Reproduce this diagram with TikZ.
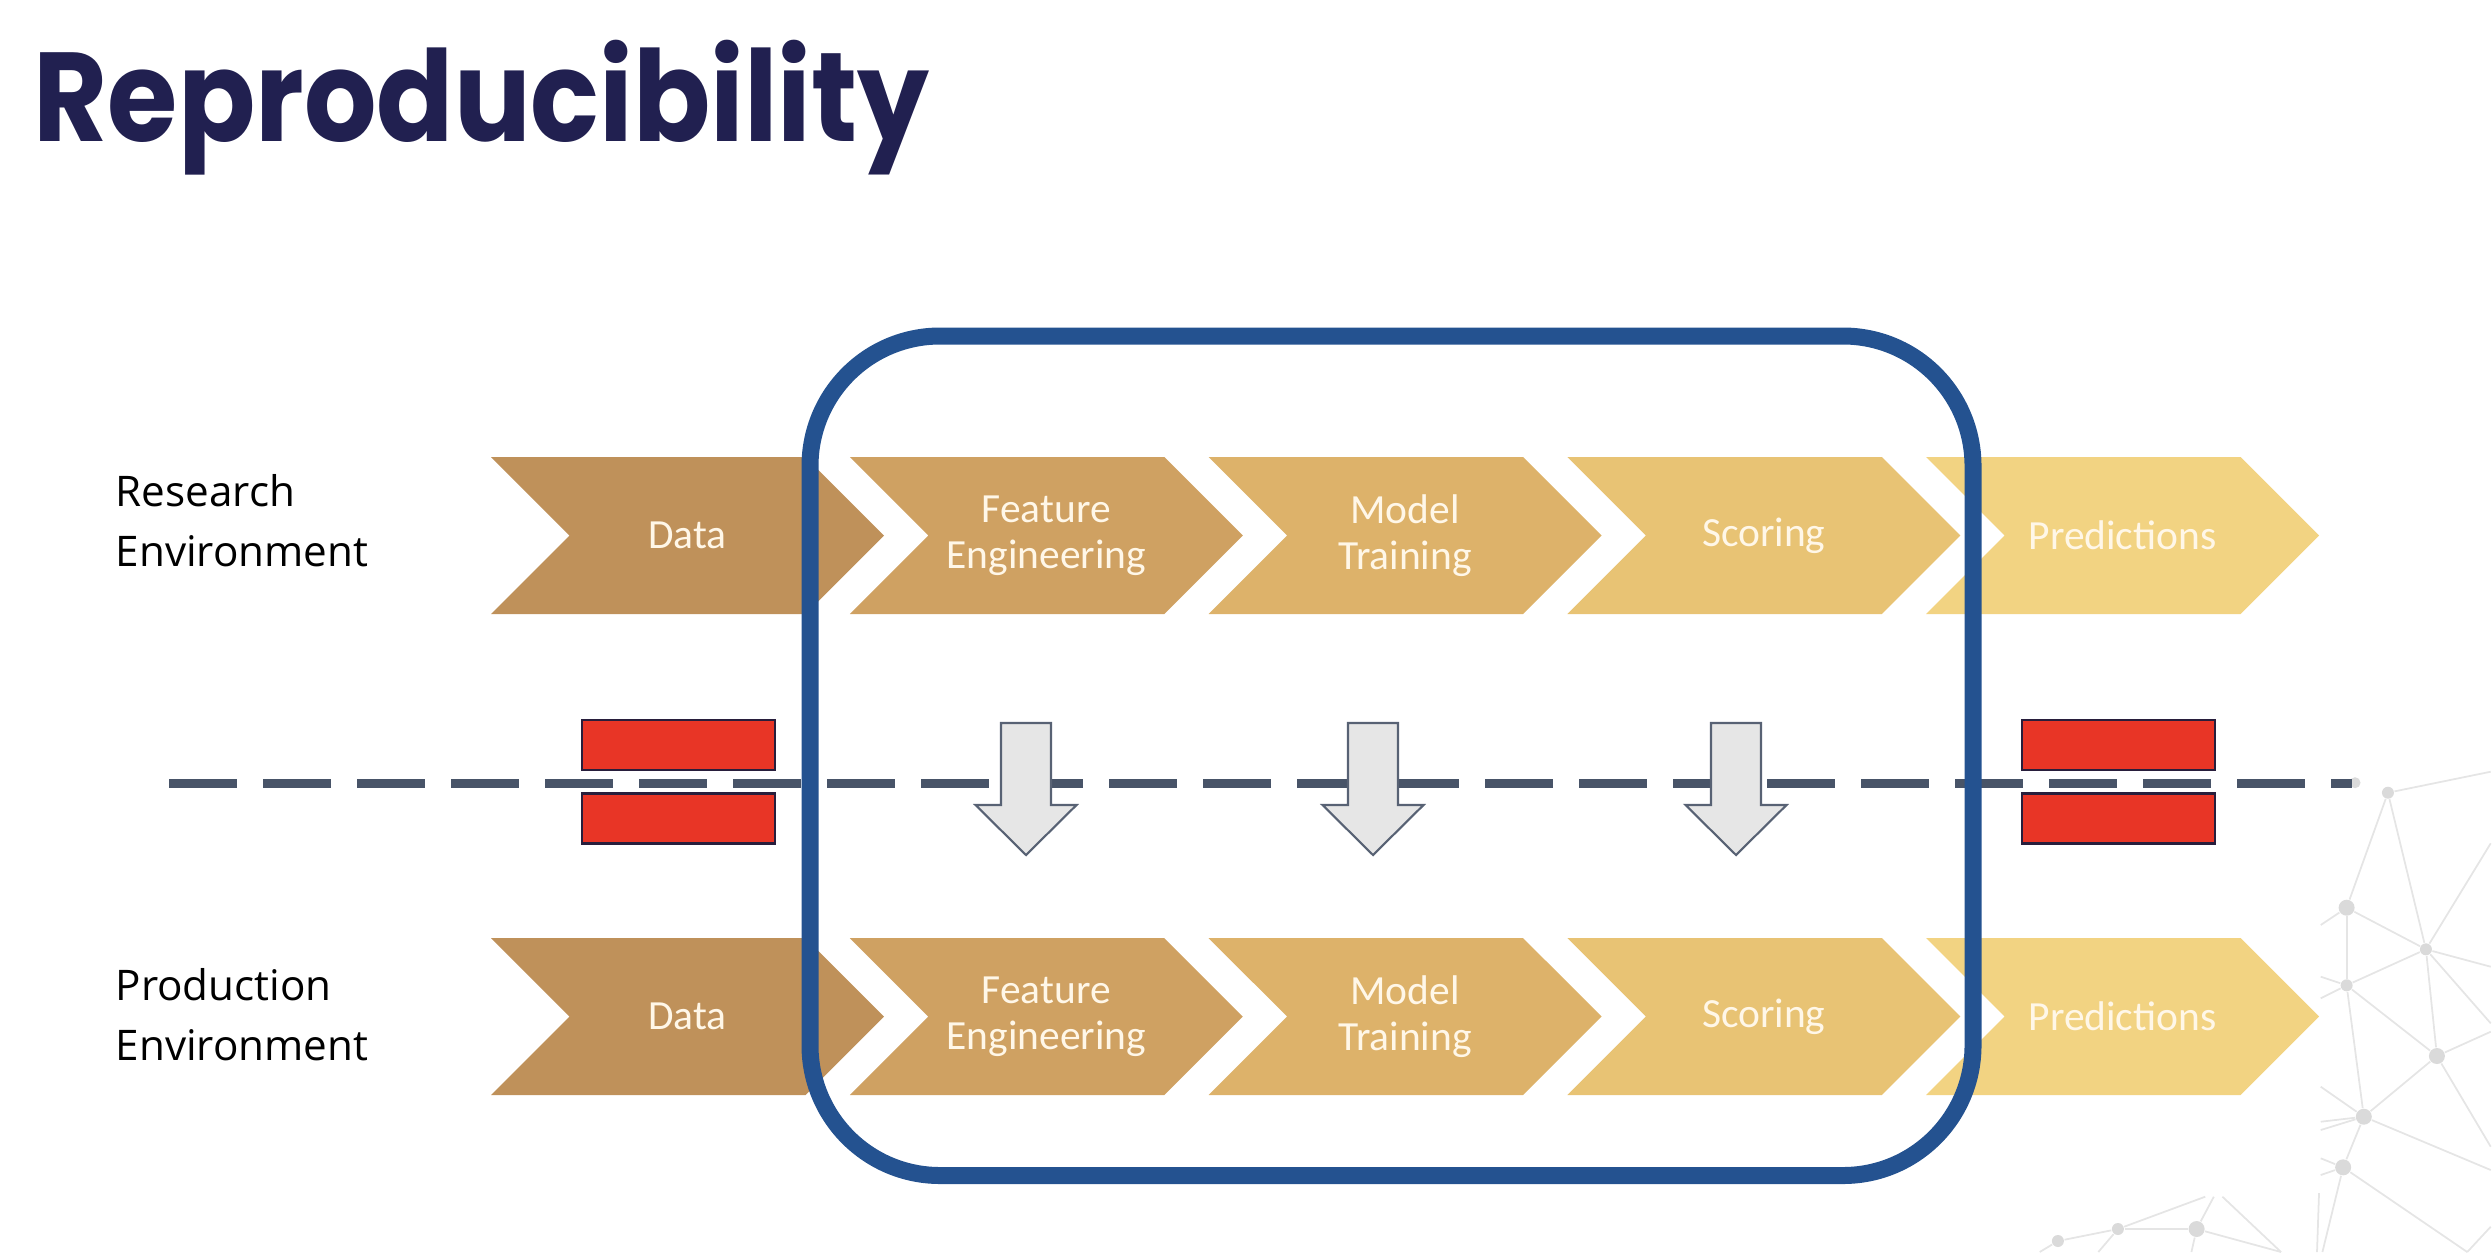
\documentclass[tikz,border=0pt]{standalone}
\usepackage{fontspec}
\usepackage{tikz}
\usetikzlibrary{shapes.symbols, positioning}

\newfontfamily\titlefont{Poppins}
\newfontfamily\envfont{Open Sans}
\newfontfamily\stagefont{Carlito}

\definecolor{navy}{RGB}{33,32,80}
\definecolor{cdata}{RGB}{191,145,90}
\definecolor{cfeat}{RGB}{207,161,98}
\definecolor{cmodel}{RGB}{221,178,106}
\definecolor{cscore}{RGB}{232,195,116}
\definecolor{cpred}{RGB}{242,211,130}
\definecolor{cream}{RGB}{255,247,232}
\definecolor{fenceblue}{RGB}{36,82,144}
\definecolor{slate}{RGB}{72,84,104}
\definecolor{stopred}{RGB}{232,53,38}
\definecolor{stopline}{RGB}{40,30,60}
\definecolor{pushgray}{RGB}{230,230,230}
\definecolor{pushline}{RGB}{88,98,116}
\definecolor{netgray}{RGB}{229,229,229}
\definecolor{netdotgray}{RGB}{218,218,218}

\tikzset{
  stage/.style={signal, signal from=west, signal to=east, minimum width=3.93cm,
    minimum height=1.57cm, inner sep=0pt, text=cream, align=center,
    font=\stagefont\fontsize{11.8}{13}\selectfont},
  env/.style={anchor=base west, align=left, inner sep=0pt,
    font=\envfont\fontsize{12}{16.8}\selectfont},
  stopbar/.style={draw=stopline, line width=0.6pt, fill=stopred,
    minimum width=1.93cm, minimum height=0.5cm, inner sep=0pt},
  push/.style={draw=pushline, line width=0.6pt, fill=pushgray, line join=miter},
  fence/.style={draw=fenceblue, line width=0.17cm, rounded corners=1.3cm,
    minimum width=11.63cm, minimum height=8.395cm, inner sep=0pt},
  net/.style={netgray, line width=0.5pt},
  netdot/.style={circle, fill=netdotgray, inner sep=0pt, minimum size=#1},
  netdot/.default=0.12cm
}

\begin{document}
\begin{tikzpicture}[node distance=3.5875cm, on grid]
  \useasboundingbox (0,0) rectangle (24.92,-12.52);

  \node[netdot] (na) at (23.879,-7.927) {};
  \node[netdot=0.16cm] (nb) at (23.466,-9.077) {};
  \node[netdot] (nc) at (24.259,-9.493) {};
  \node[netdot] (nd) at (23.466,-9.853) {};
  \node[netdot=0.16cm] (ne) at (24.369,-10.56) {};
  \node[netdot=0.16cm] (nf) at (23.638,-11.167) {};
  \node[netdot=0.16cm] (ng) at (23.431,-11.673) {};
  \node[netdot] (nh) at (20.579,-12.41) {};
  \node[netdot] (ni) at (21.179,-12.29) {};
  \node[netdot=0.16cm] (nj) at (21.966,-12.29) {};
  \node[netdot=0.11cm] (nk) at (23.55,-7.827) {};
  \path (24.907,-7.717) coordinate (e1) (23.207,-9.25) coordinate (e2)
    (24.907,-8.433) coordinate (e3) (24.907,-9.667) coordinate (e4)
    (24.907,-10.233) coordinate (e5) (23.207,-9.767) coordinate (e6)
    (23.207,-9.983) coordinate (e7) (24.907,-10.317) coordinate (e8)
    (24.907,-11.467) coordinate (e9) (23.207,-10.867) coordinate (e10)
    (23.207,-11.217) coordinate (e11) (23.207,-11.30) coordinate (e12)
    (24.907,-11.70) coordinate (e13) (23.207,-11.583) coordinate (e14)
    (23.207,-11.75) coordinate (e15) (23.224,-12.52) coordinate (e16)
    (24.672,-12.52) coordinate (e17) (24.907,-12.267) coordinate (e18)
    (22.138,-11.967) coordinate (e19) (22.052,-11.967) coordinate (e20)
    (22.81,-12.52) coordinate (e21) (22.224,-11.967) coordinate (e22)
    (20.397,-12.52) coordinate (e23) (20.983,-12.52) coordinate (e24)
    (21.914,-12.52) coordinate (e25) (23.19,-11.93) coordinate (e26)
    (23.17,-12.52) coordinate (e27);

  \path[net]
    (na) edge (nb)
         edge (nc)
         edge (e1)
    (nb) edge (nc)
         edge (nd)
         edge (e2)
    (nc) edge (nd)
         edge (ne)
         edge (e3)
         edge (e4)
         edge (e5)
    (nd) edge (ne)
         edge (nf)
         edge (e6)
         edge (e7)
    (ne) edge (nf)
         edge (e8)
         edge (e9)
    (nf) edge (ng)
         edge (e10)
         edge (e11)
         edge (e12)
         edge (e13)
    (ng) edge (e14)
         edge (e15)
         edge (e16)
         edge (e17)
    (e18) edge (e17)
    (nh) edge (ni)
         edge (e23)
    (ni) edge (nj)
         edge (e20)
         edge (e24)
    (nj) edge (e19)
         edge (e21)
         edge (e25)
    (e22) edge (e21)
    (e26) edge (e27);

  \node[anchor=base west, inner sep=0pt, text=navy,
    font=\titlefont\bfseries\fontsize{36}{40}\selectfont] (title) at (0.33,-1.417) {\scalebox{0.9}[1]{Reproducibility}};

  \node[env] (rlab) at (1.15,-5.66) {Research\\Environment};
  \node[env] (plab) at (1.15,-10.60) {Production\\Environment};

  \node[stage, fill=cdata] (rd) at (6.875,-5.355) {Data};
  \node[stage, fill=cfeat] (rf) [right=of rd] {Feature\\Engineering};
  \node[stage, fill=cmodel] (rm) [right=of rf] {Model\\Training};
  \node[stage, fill=cscore] (rs) [right=of rm] {Scoring};
  \node[stage, fill=cpred] (rp) [right=of rs] {Predictions};

  \node[stage, fill=cdata] (pd) [below=4.81cm of rd] {Data};
  \node[stage, fill=cfeat] (pf) [right=of pd] {Feature\\Engineering};
  \node[stage, fill=cmodel] (pm) [right=of pf] {Model\\Training};
  \node[stage, fill=cscore] (ps) [right=of pm] {Scoring};
  \node[stage, fill=cpred] (pp) [right=of ps] {Predictions};

  \coordinate (cutw) at (1.69,-7.83);
  \coordinate (cute) at (23.52,-7.83);
  \draw[slate, line width=0.09cm, dash pattern=on 0.68cm off 0.26cm] (cutw) -- (cute);

  \coordinate (a1) at (10.26,-7.23);
  \coordinate (a2) at (13.73,-7.23);
  \coordinate (a3) at (17.36,-7.23);
  \draw[push] (a1) ++(-0.25,0) -- ++(0.5,0) -- ++(0,-0.82) -- ++(0.255,0)
    -- ++(-0.505,-0.5) -- ++(-0.505,0.5) -- ++(0.255,0) -- cycle;
  \draw[push] (a2) ++(-0.25,0) -- ++(0.5,0) -- ++(0,-0.82) -- ++(0.255,0)
    -- ++(-0.505,-0.5) -- ++(-0.505,0.5) -- ++(0.255,0) -- cycle;
  \draw[push] (a3) ++(-0.25,0) -- ++(0.5,0) -- ++(0,-0.82) -- ++(0.255,0)
    -- ++(-0.505,-0.5) -- ++(-0.505,0.5) -- ++(0.255,0) -- cycle;

  \node[stopbar] (ltop) at (6.785,-7.45) {};
  \node[stopbar] (lbot) [below=0.735cm of ltop] {};
  \node[stopbar] (rtop) at (21.185,-7.45) {};
  \node[stopbar] (rbot) [below=0.735cm of rtop] {};

  \node[fence] (frame) at (13.915,-7.5575) {};
\end{tikzpicture}
\end{document}
